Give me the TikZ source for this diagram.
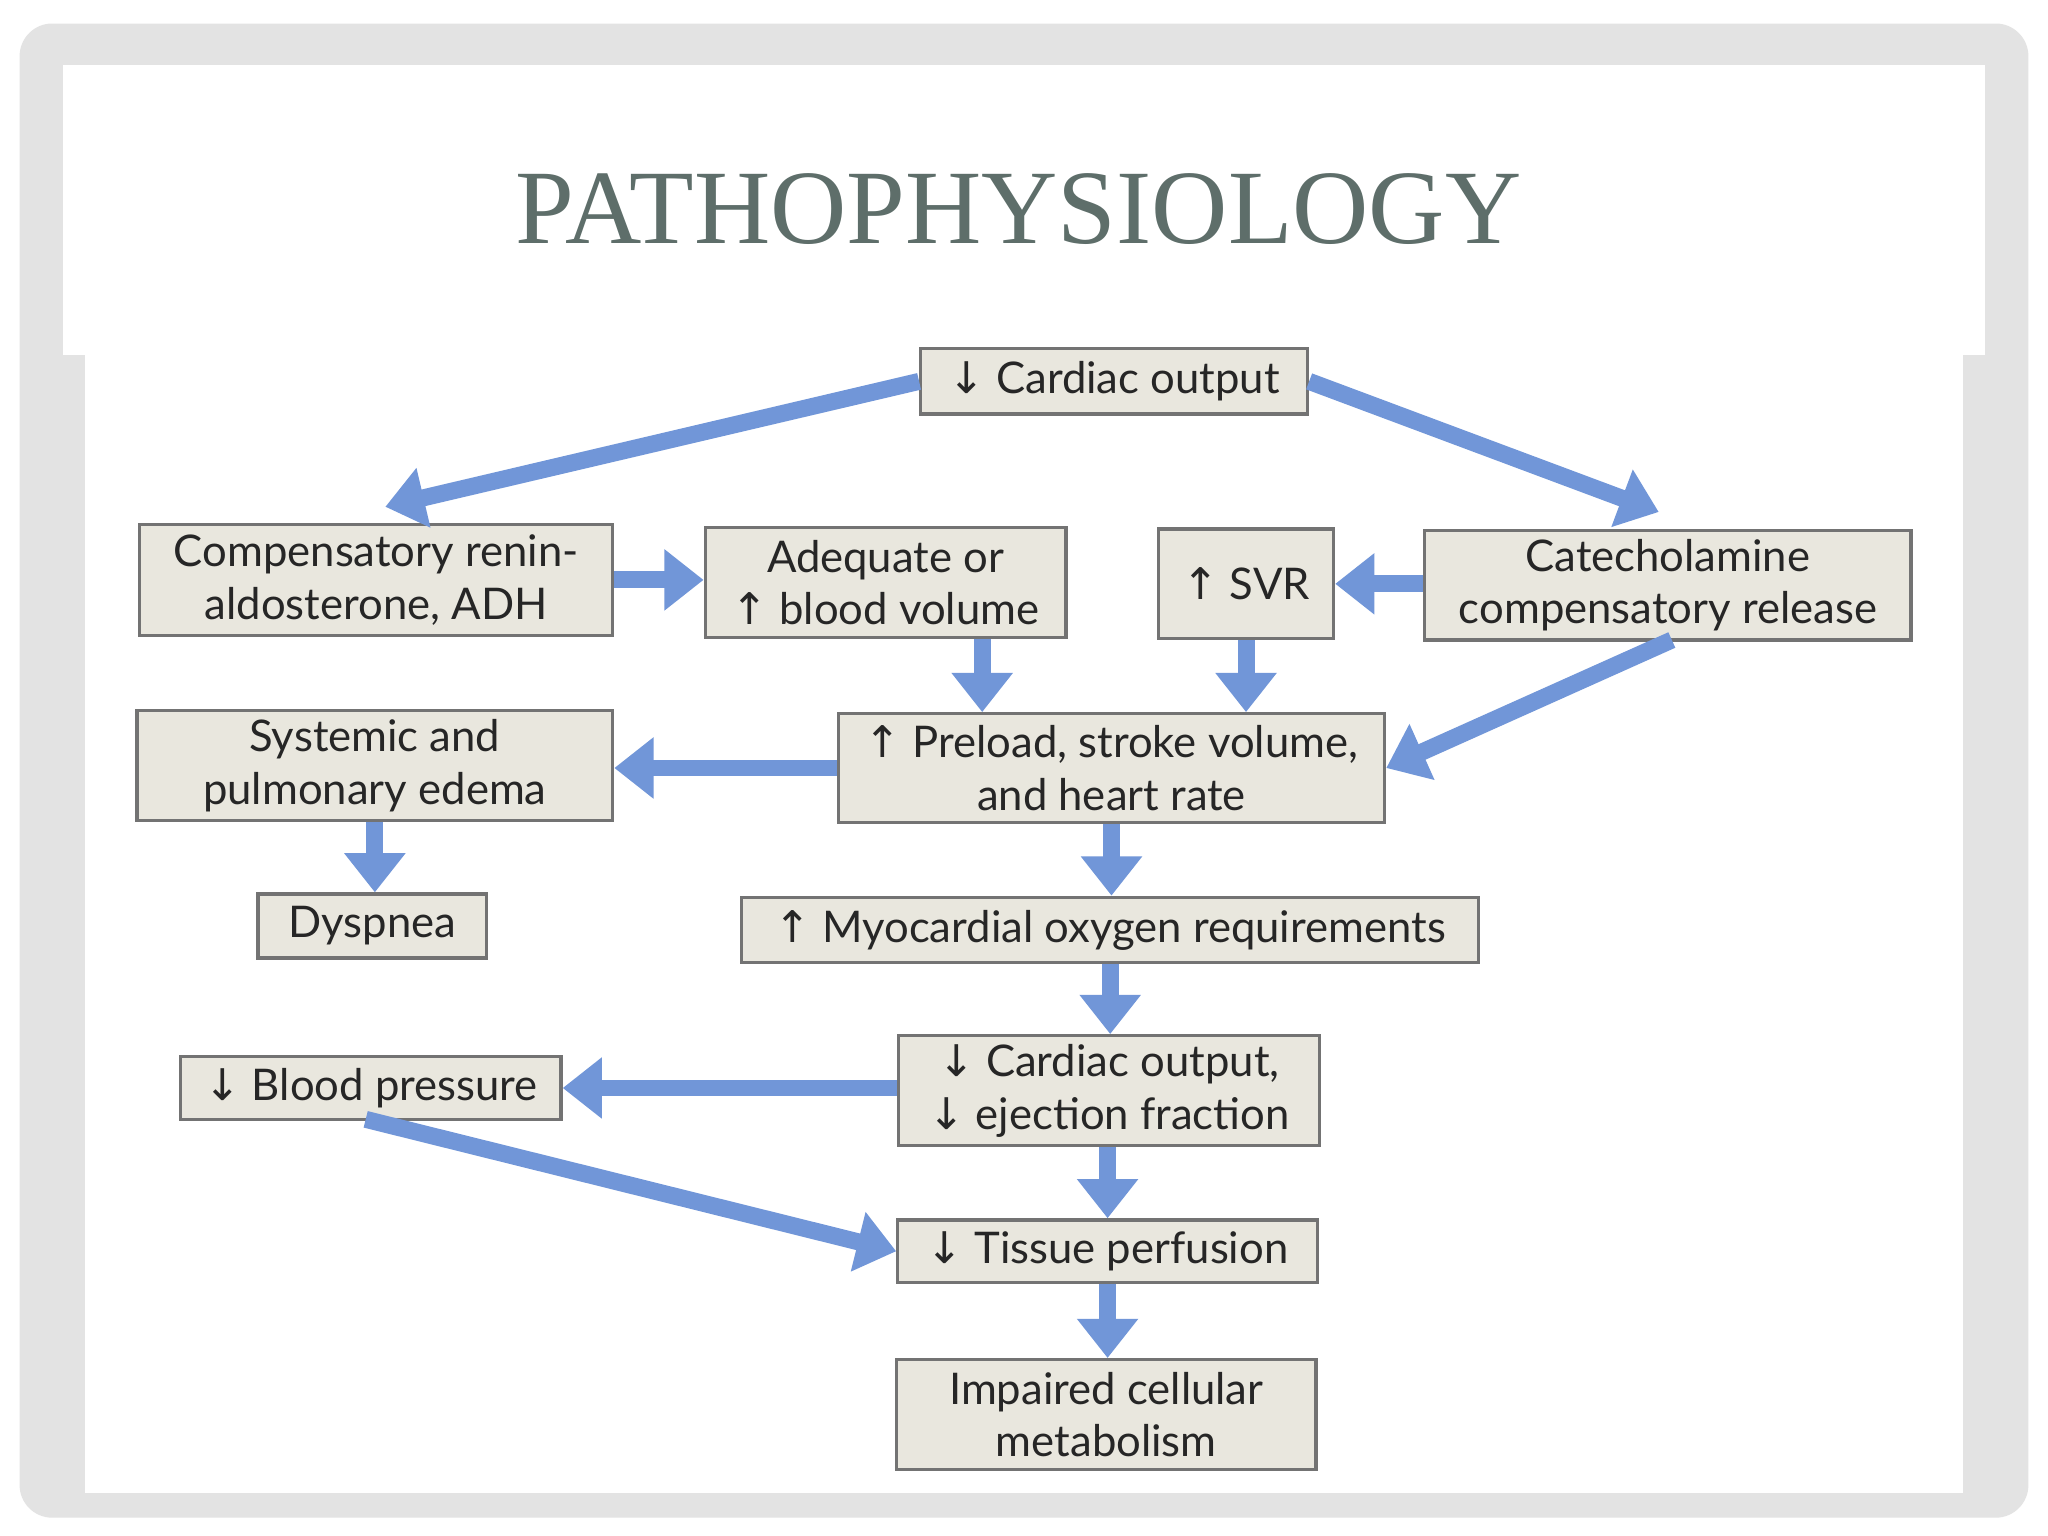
\documentclass[tikz,border=0pt]{standalone}
\usepackage{fontspec}
\setmainfont{Liberation Serif}
\newfontfamily\boxfont{Lato}
\newfontfamily\arrfont{DejaVu Sans}
\usetikzlibrary{arrows.meta}
\definecolor{boxfill}{HTML}{E9E7DE}
\definecolor{arrowblue}{HTML}{7196D8}
\definecolor{titlecol}{HTML}{5E6E6A}
\newcommand\dn{{\arrfont\char"2193}}
\newcommand\up{{\arrfont\char"2191}}
\tikzset{
 box/.style={draw=black!55, fill=boxfill, line width=0.7pt, inner sep=0pt, align=center, font=\boxfont\fontsize{9.5}{11.5}\selectfont, text=black!85},
 arr/.style={draw=arrowblue, line width=0.13cm, -{Triangle[length=0.3cm,width=0.45cm]}}
}
\begin{document}
\begin{tikzpicture}[x=0.01cm,y=-0.01cm]
\useasboundingbox (0,0) rectangle (1568,1176);
\fill[white] (0,0) rectangle (1568,1176);
\fill[black!11, rounded corners=0.25cm] (15,18) rectangle (1553,1162);
\fill[white] (65,62) rectangle (1503,1143);
\fill[white] (48,50) rectangle (1520,272);
\node[text=titlecol, font=\fontsize{23}{26}\selectfont] (title) at (780,160) {PATHOPHYSIOLOGY};

\node[box, minimum width=2.96cm, minimum height=0.5cm] (co1) at (853,292) {\dn\ Cardiac output};
\node[box, minimum width=3.62cm, minimum height=0.85cm] (ren) at (288,444) {Compensatory renin-\\aldosterone, ADH};
\node[box, minimum width=2.76cm, minimum height=0.84cm] (adq) at (678,446) {Adequate or\\\up\ blood volume};
\node[box, minimum width=1.34cm, minimum height=0.84cm] (svr) at (954,447) {\up\ SVR};
\node[box, minimum width=3.72cm, minimum height=0.84cm] (cat) at (1277,448) {Catecholamine\\compensatory release};
\node[box, minimum width=3.64cm, minimum height=0.84cm] (sys) at (287,586) {Systemic and\\pulmonary edema};
\node[box, minimum width=4.18cm, minimum height=0.83cm] (pre) at (851,588) {\up\ Preload, stroke volume,\\and heart rate};
\node[box, minimum width=1.75cm, minimum height=0.49cm] (dys) at (285,709) {Dyspnea};
\node[box, minimum width=5.64cm, minimum height=0.5cm] (myo) at (850,712) {\up\ Myocardial oxygen requirements};
\node[box, minimum width=3.22cm, minimum height=0.84cm] (co2) at (849,835) {\dn\ Cardiac output,\\\dn\ ejection fraction};
\node[box, minimum width=2.91cm, minimum height=0.48cm] (bp) at (284,833) {\dn\ Blood pressure};
\node[box, minimum width=3.21cm, minimum height=0.48cm] (tis) at (848,958) {\dn\ Tissue perfusion};
\node[box, minimum width=3.21cm, minimum height=0.84cm] (imp) at (847,1083) {Impaired cellular\\metabolism};

\coordinate (a1) at (295,388);
\coordinate (a2) at (1270,392);
\draw[arr] (co1.west) -- (a1);
\draw[arr] (co1.east) -- (a2);
\draw[arr] (ren.east) -- (ren.east -| adq.west);
\draw[arr] (cat.west |- svr.east) -- (svr.east);
\draw[arr] (adq.south -| 752,0) -- (pre.north -| 752,0);
\draw[arr] (svr.south) -- (pre.north -| svr.south);
\draw[arr] (1280,490) -- (pre.east);
\draw[arr] (pre.west) -- (pre.west -| sys.east);
\draw[arr] (sys.south) -- (dys.north -| sys.south);
\draw[arr] (pre.south) -- (myo.north -| pre.south);
\draw[arr] (myo.south) -- (co2.north -| myo.south);
\draw[arr] (co2.west |- bp.east) -- (bp.east);
\draw[arr] (280,857) -- (tis.west);
\draw[arr] (co2.south -| tis.north) -- (tis.north);
\draw[arr] (tis.south) -- (imp.north -| tis.south);
\end{tikzpicture}
\end{document}
